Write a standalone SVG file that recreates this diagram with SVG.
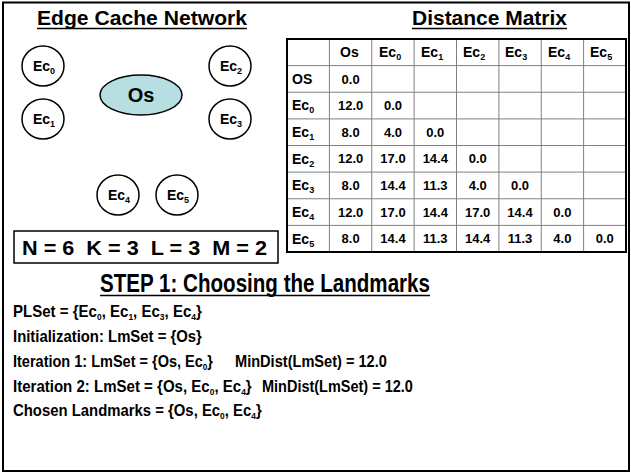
<svg xmlns="http://www.w3.org/2000/svg" width="631" height="474" viewBox="0 0 631 474">
<style>
text{font-family:"Liberation Sans",Arial,sans-serif;fill:#000}
.t{font-size:20px;font-weight:bold}
.nd{fill:#fff;stroke:#000;stroke-width:1.5}
.nl{font-size:14px;font-weight:bold;text-anchor:middle}
.sub{font-size:9px}
.c{font-size:13px;font-weight:bold;text-anchor:middle}
.l{font-size:14px;font-weight:bold}
.b{font-size:16px;font-weight:bold}
.g{stroke:#808080;stroke-width:1}
.u{stroke:#000;stroke-width:1.5}
</style>
<rect x="3" y="2.5" width="626" height="468.5" fill="#fff" stroke="#000" stroke-width="2"/>

<text class="t" x="37" y="25" textLength="210" lengthAdjust="spacingAndGlyphs">Edge Cache Network</text>
<line class="u" x1="37" y1="28.5" x2="247" y2="28.5"/>
<text class="t" x="412" y="25" textLength="155" lengthAdjust="spacingAndGlyphs">Distance Matrix</text>
<line class="u" x1="412" y1="28.5" x2="567" y2="28.5"/>

<g id="Ec0"><ellipse class="nd" cx="43" cy="66" rx="21" ry="20"/><text class="nl" x="44" y="71">Ec<tspan class="sub" dy="3">0</tspan></text></g>
<g id="Ec1"><ellipse class="nd" cx="43" cy="119" rx="21" ry="20"/><text class="nl" x="44" y="124">Ec<tspan class="sub" dy="3">1</tspan></text></g>
<g id="Ec2"><ellipse class="nd" cx="230" cy="66" rx="21" ry="20"/><text class="nl" x="231" y="71">Ec<tspan class="sub" dy="3">2</tspan></text></g>
<g id="Ec3"><ellipse class="nd" cx="230" cy="119" rx="21" ry="20"/><text class="nl" x="231" y="124">Ec<tspan class="sub" dy="3">3</tspan></text></g>
<g id="Ec4"><ellipse class="nd" cx="118" cy="195" rx="21" ry="20"/><text class="nl" x="119" y="200">Ec<tspan class="sub" dy="3">4</tspan></text></g>
<g id="Ec5"><ellipse class="nd" cx="177" cy="195" rx="21" ry="20"/><text class="nl" x="178" y="200">Ec<tspan class="sub" dy="3">5</tspan></text></g>
<g id="Os"><ellipse cx="141" cy="95" rx="41" ry="20" fill="#b7dee1" stroke="#000" stroke-width="1.5"/><text x="141" y="102" font-size="20" font-weight="bold" text-anchor="middle">Os</text></g>
<g id="connectors"></g>

<g id="params"><rect x="14" y="231" width="264" height="32" fill="#fff" stroke="#000" stroke-width="1.5"/>
<text x="22" y="255" font-size="21" font-weight="bold" xml:space="preserve" textLength="245" lengthAdjust="spacingAndGlyphs">N = 6  K = 3  L = 3  M = 2</text></g>

<g id="matrix">
<rect x="287" y="39" width="339" height="213" fill="#fff"/>
<g class="g">
<line x1="329.4" y1="39" x2="329.4" y2="252"/><line x1="371.75" y1="39" x2="371.75" y2="252"/>
<line x1="414.1" y1="39" x2="414.1" y2="252"/><line x1="456.5" y1="39" x2="456.5" y2="252"/>
<line x1="498.9" y1="39" x2="498.9" y2="252"/><line x1="541.25" y1="39" x2="541.25" y2="252"/>
<line x1="583.6" y1="39" x2="583.6" y2="252"/>
<line x1="287" y1="65.6" x2="626" y2="65.6"/><line x1="287" y1="92.25" x2="626" y2="92.25"/>
<line x1="287" y1="118.9" x2="626" y2="118.9"/><line x1="287" y1="145.5" x2="626" y2="145.5"/>
<line x1="287" y1="172.1" x2="626" y2="172.1"/><line x1="287" y1="198.75" x2="626" y2="198.75"/>
<line x1="287" y1="225.4" x2="626" y2="225.4"/>
</g>
<rect x="287" y="39" width="339" height="213" fill="none" stroke="#000" stroke-width="2"/>
<text class="l" x="340" y="57">Os</text>
<text class="l" x="379" y="57">Ec<tspan class="sub" dy="3">0</tspan></text>
<text class="l" x="421" y="57">Ec<tspan class="sub" dy="3">1</tspan></text>
<text class="l" x="463" y="57">Ec<tspan class="sub" dy="3">2</tspan></text>
<text class="l" x="505" y="57">Ec<tspan class="sub" dy="3">3</tspan></text>
<text class="l" x="548" y="57">Ec<tspan class="sub" dy="3">4</tspan></text>
<text class="l" x="590" y="57">Ec<tspan class="sub" dy="3">5</tspan></text>
<text class="l" x="292" y="84">OS</text>
<text class="l" x="292" y="110">Ec<tspan class="sub" dy="3">0</tspan></text>
<text class="l" x="292" y="137">Ec<tspan class="sub" dy="3">1</tspan></text>
<text class="l" x="292" y="163.5">Ec<tspan class="sub" dy="3">2</tspan></text>
<text class="l" x="292" y="190">Ec<tspan class="sub" dy="3">3</tspan></text>
<text class="l" x="292" y="217">Ec<tspan class="sub" dy="3">4</tspan></text>
<text class="l" x="292" y="243.5">Ec<tspan class="sub" dy="3">5</tspan></text>
<text class="c" x="350.6" y="83.5">0.0</text>
<text class="c" x="350.6" y="110">12.0</text><text class="c" x="393" y="110">0.0</text>
<text class="c" x="350.6" y="136.5">8.0</text><text class="c" x="393" y="136.5">4.0</text><text class="c" x="435.3" y="136.5">0.0</text>
<text class="c" x="350.6" y="163">12.0</text><text class="c" x="393" y="163">17.0</text><text class="c" x="435.3" y="163">14.4</text><text class="c" x="477.7" y="163">0.0</text>
<text class="c" x="350.6" y="190">8.0</text><text class="c" x="393" y="190">14.4</text><text class="c" x="435.3" y="190">11.3</text><text class="c" x="477.7" y="190">4.0</text><text class="c" x="520" y="190">0.0</text>
<text class="c" x="350.6" y="216.5">12.0</text><text class="c" x="393" y="216.5">17.0</text><text class="c" x="435.3" y="216.5">14.4</text><text class="c" x="477.7" y="216.5">17.0</text><text class="c" x="520" y="216.5">14.4</text><text class="c" x="562.4" y="216.5">0.0</text>
<text class="c" x="350.6" y="243">8.0</text><text class="c" x="393" y="243">14.4</text><text class="c" x="435.3" y="243">11.3</text><text class="c" x="477.7" y="243">14.4</text><text class="c" x="520" y="243">11.3</text><text class="c" x="562.4" y="243">4.0</text><text class="c" x="604.8" y="243">0.0</text>
</g>

<text x="100" y="292" font-size="26" font-weight="bold" textLength="330" lengthAdjust="spacingAndGlyphs">STEP 1: Choosing the Landmarks</text>
<line class="u" x1="100" y1="295.5" x2="430" y2="295.5"/>

<text class="b" transform="translate(13,317) scale(0.94,1)">PLSet = {Ec<tspan class="sub" dy="3">0</tspan><tspan dy="-3">, Ec</tspan><tspan class="sub" dy="3">1</tspan><tspan dy="-3">, Ec</tspan><tspan class="sub" dy="3">3</tspan><tspan dy="-3">, Ec</tspan><tspan class="sub" dy="3">4</tspan><tspan dy="-3">}</tspan></text>
<text class="b" transform="translate(13,342) scale(0.931,1)">Initialization: LmSet = {Os}</text>
<text class="b" transform="translate(13,367) scale(0.907,1)">Iteration 1: LmSet = {Os, Ec<tspan class="sub" dy="3">0</tspan><tspan dy="-3">}</tspan></text>
<text class="b" transform="translate(235,367) scale(0.912,1)">MinDist(LmSet) = 12.0</text>
<text class="b" transform="translate(13,392) scale(0.94,1)">Iteration 2: LmSet = {Os, Ec<tspan class="sub" dy="3">0</tspan><tspan dy="-3">, Ec</tspan><tspan class="sub" dy="3">4</tspan><tspan dy="-3">}</tspan></text>
<text class="b" transform="translate(262,392) scale(0.906,1)">MinDist(LmSet) = 12.0</text>
<text class="b" transform="translate(13,416) scale(0.931,1)">Chosen Landmarks = {Os, Ec<tspan class="sub" dy="3">0</tspan><tspan dy="-3">, Ec</tspan><tspan class="sub" dy="3">4</tspan><tspan dy="-3">}</tspan></text>
</svg>
